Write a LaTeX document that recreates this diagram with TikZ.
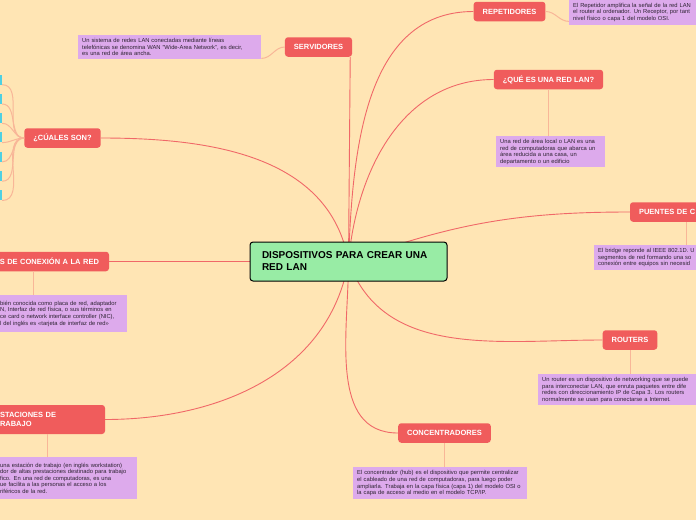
\documentclass[tikz,border=0pt]{standalone}
\usepackage{fontspec}
\setmainfont{Liberation Sans}
\usetikzlibrary{positioning}
\definecolor{BG}{RGB}{255,229,180}
\definecolor{TR}{RGB}{240,92,92}
\definecolor{LR}{RGB}{240,104,104}
\definecolor{LS}{RGB}{248,182,152}
\definecolor{NP}{RGB}{221,170,236}
\definecolor{NT}{RGB}{45,35,50}
\definecolor{CG}{RGB}{152,236,165}
\definecolor{CY}{RGB}{78,208,226}

\tikzset{
  topic/.style={fill=TR, rounded corners=3pt, text=white,
    font=\fontsize{7.5}{9}\selectfont\bfseries,
    minimum height=19.5pt, inner xsep=9pt, inner ysep=2pt},
  note/.style={fill=NP, text=NT, font=\fontsize{5.8}{6.6}\selectfont,
    align=left, inner xsep=4pt, inner ysep=3pt, anchor=north west},
  link/.style={LR, line width=0.9pt},
  sublink/.style={LS, line width=1pt},
  item/.style={fill=CY, minimum width=22pt, minimum height=10pt, inner sep=0pt},
}

\begin{document}
\begin{tikzpicture}[x=1pt,y=-1pt]
\useasboundingbox (0,0) rectangle (696,520);
\clip (0,0) rectangle (696,520);
\fill[BG] (0,0) rectangle (696,520);

\coordinate (hub) at (348.5,261.5);

% temas
\node[topic] (repetidores) at (509.5,11.5) {REPETIDORES};
\node[topic] (servidores) at (318.5,47) {SERVIDORES};
\node[topic] (quees) at (548.5,79.5) {¿QUÉ ES UNA RED LAN?};
\node[topic] (cuales) at (62.5,138) {¿CÚALES SON?};
\node[topic, text width=94pt, align=left] (puentes) at (686,212) {PUENTES DE C};
\node[topic, text width=132pt, align=right, inner xsep=10pt] (tarjetas) at (33,261.5) {S DE CONEXIÓN A LA RED};
\node[topic] (routers) at (630,340) {ROUTERS};
\node[topic, text width=94pt, align=left, inner xsep=11pt, minimum height=29pt] (estaciones) at (47,419.5) {STACIONES DE\\RABAJO};
\node[topic] (concentradores) at (444.5,433) {CONCENTRADORES};

% notas
\node[note, text width=150pt, minimum height=26pt] (repnote) at (569,-1)
  {El Repetidor amplifica la señal de la red LAN\\el router al ordenador. Un Receptor, por tant\\nivel físico o capa 1 del modelo OSI.};
\node[note, text width=175pt, minimum height=24pt] (servnote) at (78,35)
  {Un sistema de redes LAN conectadas mediante líneas\\telefónicas se denomina WAN "Wide-Area Network", es decir,\\es una red de área ancha.};
\node[note, text width=101pt, minimum height=31pt] (queesnote) at (496,136)
  {Una red de área local o LAN es una\\red de computadoras que abarca un\\área reducida a una casa, un\\departamento o un edificio};
\node[note, text width=140pt, minimum height=24pt] (puentesnote) at (594,245)
  {El bridge reponde al IEEE 802.1D. U\\segmentos de red formando una so\\conexión entre equipos sin necesid};
\node[note, text width=123pt, minimum height=37pt] (tarjnote) at (-4,295)
  {bién conocida como placa de red, adaptador\\N, Interfaz de red física, o sus términos en\\ce card o network interface controller (NIC),\\l del inglés es «tarjeta de interfaz de red»};
\node[note, text width=170pt, minimum height=31pt] (routnote) at (538,374)
  {Un router es un dispositivo de networking que se puede\\para interconectar LAN, que enruta paquetes entre dife\\redes con direccionamiento IP de Capa 3. Los routers\\normalmente se usan para conectarse a Internet.};
\node[note, text width=133pt, minimum height=42pt] (estnote) at (-4,457)
  {una estación de trabajo (en inglés workstation)\\dor de altas prestaciones destinado para trabajo\\fico. En una red de computadoras, es una\\ue facilita a las personas el acceso a los\\riféricos de la red.};
\node[note, text width=166pt, minimum height=32pt] (concnote) at (353,467)
  {El concentrador (hub) es el dispositivo que permite centralizar\\el cableado de una red de computadoras, para luego poder\\ampliarla. Trabaja en la capa física (capa 1) del modelo OSI o\\la capa de acceso al medio en el modelo TCP/IP.};

% elementos de la lista
\foreach \i in {1,...,7}
  \node[item] (item\i) at (-9,60.2+19.3*\i) {};

% enlaces secundarios
\foreach \i in {1,...,7}
  \draw[sublink] (cuales.west) to[out=180,in=0] (item\i.south east);
\draw[sublink] (repetidores.east) to[out=0,in=180] ([yshift=4pt]repnote.south west);
\draw[sublink] (servidores.west) to[out=180,in=0] ([yshift=1pt]servnote.south east);
\draw[sublink] (quees.south) -- (quees.south |- queesnote.north);
\draw[sublink] (puentes.south) -- (puentes.south |- puentesnote.north);
\draw[sublink] (tarjetas.south) -- (tarjetas.south |- tarjnote.north);
\draw[sublink] (routers.south) -- (routers.south |- routnote.north);
\draw[sublink] (estaciones.south) -- (estaciones.south |- estnote.north);
\draw[sublink] (concentradores.south) -- (concentradores.south |- concnote.north);

% enlaces principales
\draw[link] (hub) -- ([xshift=-2pt]servidores.south east);
\draw[link] (hub) to[out=88,in=180] (repetidores.west);
\draw[link] (hub) to[out=85,in=180] (quees.west);
\draw[link] (hub) to[out=20,in=180] (puentes.west);
\draw[link] (hub) to[out=100,in=0] (cuales.east);
\draw[link] (hub) -- (tarjetas.east);
\draw[link] (hub) to[out=-100,in=0] (estaciones.east);
\draw[link] (hub) to[out=-90,in=180] (concentradores.west);
\draw[link] (hub) to[out=-70,in=180] (routers.west);

\node[fill=CG, draw=black, line width=1pt, rounded corners=3pt,
  minimum width=197pt, minimum height=39pt, text width=173pt,
  inner xsep=12pt, align=left, font=\fontsize{10}{12}\selectfont\bfseries]
  (central) at (hub) {DISPOSITIVOS PARA CREAR UNA\\RED LAN};
\end{tikzpicture}
\end{document}
